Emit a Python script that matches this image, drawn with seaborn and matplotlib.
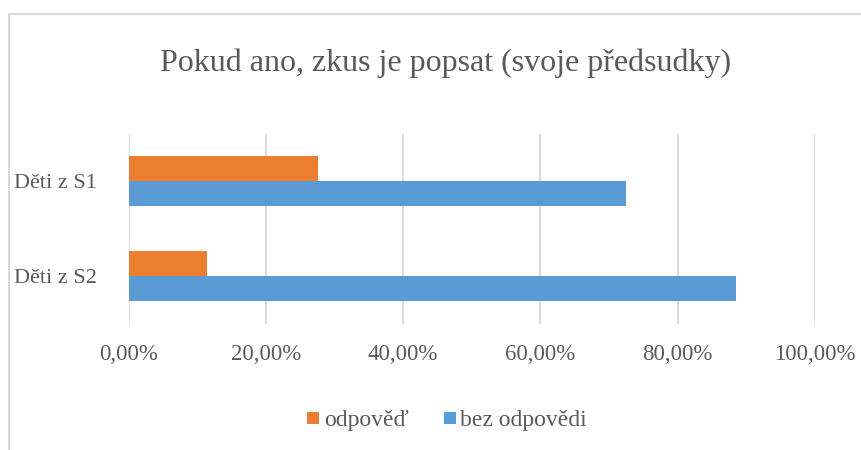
import matplotlib.pyplot as plt
import pandas as pd
import seaborn as sns
from matplotlib.lines import Line2D
from matplotlib.ticker import FuncFormatter, MultipleLocator

CATEGORIES = ["Děti z S1", "Děti z S2"]
SERIES = ["odpověď", "bez odpovědi"]
ODPOVED = [27.6, 11.5]
BEZ_ODPOVEDI = [72.4, 88.5]
TITLE = "Pokud ano, zkus je popsat (svoje předsudky)"

COLORS = {"odpověď": "#ED7D31", "bez odpovědi": "#5B9BD5"}
TEXT = "#595959"
GRID = "#D9D9D9"


def build_frame() -> pd.DataFrame:
    rows = []
    for cat, a, b in zip(CATEGORIES, ODPOVED, BEZ_ODPOVEDI):
        rows.append({"kategorie": cat, "serie": SERIES[0], "hodnota": a / 100})
        rows.append({"kategorie": cat, "serie": SERIES[1], "hodnota": b / 100})
    return pd.DataFrame(rows)


def main() -> None:
    sns.set_theme(style="white")
    plt.rcParams["font.family"] = ["Liberation Serif", "DejaVu Serif"]

    data = build_frame()
    fig = plt.figure(figsize=(8.62, 4.5), dpi=100)
    ax = fig.add_axes([128.5 / 862, 1 - 323.5 / 450, (815 - 128.5) / 862, 190 / 450])

    sns.barplot(
        data=data,
        x="hodnota",
        y="kategorie",
        hue="serie",
        hue_order=SERIES,
        order=CATEGORIES,
        palette=COLORS,
        orient="h",
        width=0.526,
        gap=0,
        saturation=1,
        linewidth=0,
        legend=False,
        ax=ax,
    )

    ax.set_xlim(0, 1)
    ax.set_ylim(1.5, -0.5)
    ax.xaxis.set_major_locator(MultipleLocator(0.2))
    ax.xaxis.set_major_formatter(FuncFormatter(lambda v, _: f"{v * 100:.2f}%".replace(".", ",")))
    ax.grid(axis="x", color=GRID, linewidth=1.3)
    ax.set_axisbelow(True)
    for side in ax.spines.values():
        side.set_visible(False)
    ax.set_xlabel("")
    ax.set_ylabel("")
    ax.tick_params(axis="x", length=0, pad=15, labelsize=16.5, labelcolor=TEXT)
    ax.tick_params(axis="y", length=0, pad=23, labelsize=16, labelcolor=TEXT)

    fig.text(446 / 862, 1 - 63 / 450, TITLE, ha="center", va="center", fontsize=23, color=TEXT)

    handles = [
        Line2D([], [], marker="s", linestyle="", markersize=8.5, markerfacecolor=COLORS[s], markeredgewidth=0)
        for s in SERIES
    ]
    fig.legend(
        handles,
        SERIES,
        loc="center",
        bbox_to_anchor=(446 / 862, 1 - 420 / 450),
        ncol=2,
        frameon=False,
        fontsize=17,
        labelcolor=TEXT,
        handletextpad=0.1,
        columnspacing=1.4,
        handlelength=0.7,
    )

    # chart area border (only top and left visible in the crop)
    fig.add_artist(Line2D([9 / 862, 1], [1 - 14 / 450] * 2, color=GRID, linewidth=1.5))
    fig.add_artist(Line2D([9 / 862] * 2, [0, 1 - 14 / 450], color=GRID, linewidth=1.5))

    fig.savefig("out.png", dpi=100)
    plt.close(fig)


if __name__ == "__main__":
    main()
